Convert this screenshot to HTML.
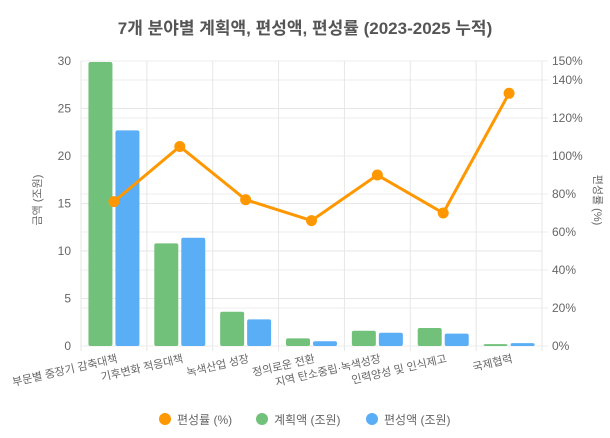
<!DOCTYPE html>
<html><head><meta charset="utf-8"><style>
body{margin:0;background:#fff;font-family:"Liberation Sans","Noto Sans CJK KR",sans-serif}
svg text{font-family:"Liberation Sans","Noto Sans CJK KR",sans-serif}
</style></head><body>
<svg id="c" width="610" height="433">
<text x="305" y="34" text-anchor="middle" font-size="17" font-weight="bold" fill="#555">7개 분야별 계획액, 편성액, 편성률 (2023-2025 누적)</text>
<g id="grid"></g><g id="bars"></g><g id="line"></g><g id="axes"></g>
<text transform="translate(41,200) rotate(-90)" text-anchor="middle" font-size="11" fill="#666">금액 (조원)</text>
<text transform="translate(594,200) rotate(90)" text-anchor="middle" font-size="11" fill="#666">편성률 (%)</text>
<g>
<g><circle cx="165" cy="419" r="6" fill="#ff9800"/><text x="177" y="424" font-size="12" fill="#666">편성률 (%)</text></g>
<g><circle cx="262" cy="419" r="6" fill="#72c17a"/><text x="274" y="424" font-size="12" fill="#666">계획액 (조원)</text></g>
<g><circle cx="372" cy="419" r="6" fill="#5aaef5"/><text x="384" y="424" font-size="12" fill="#666">편성액 (조원)</text></g>
</g>
</svg>
<script>
const categories=["부문별 중장기 감축대책","기후변화 적응대책","녹색산업 성장","정의로운 전환","지역 탄소중립·녹색성장","인력양성 및 인식제고","국제협력"];
const planValues=[29.9,10.8,3.6,0.8,1.6,1.9,0.2];
const budgetValues=[22.7,11.4,2.8,0.5,1.4,1.3,0.3];
const rateValues=[76,105,77,66,90,70,133];
const leftTicks=[0,5,10,15,20,25,30];
const rightTicks=[0,20,40,60,80,100,120,140,150];
const NS="http://www.w3.org/2000/svg";
const L=81,R=542,T=61,B=346;
const cw=(R-L)/categories.length;
const y=v=>B-(v/30)*(B-T);
const y2=v=>B-(v/150)*(B-T);
const cx=i=>L+cw*(i+0.5);
function mk(tag,attrs,parent,txt){const e=document.createElementNS(NS,tag);for(const k in attrs)e.setAttribute(k,attrs[k]);if(txt!==undefined)e.textContent=txt;document.getElementById(parent).appendChild(e);return e;}
leftTicks.forEach(t=>{
 const g=mk('line',{x1:L,x2:R,y1:y(t),y2:y(t),stroke:'#e6e6e6'},'grid');
 
 
 const tx=mk('text',{x:L-10,y:y(t)+4,'text-anchor':'end','font-size':12,fill:'#666'},'axes',t);
 
 
});
rightTicks.forEach(t=>{
 const g=mk('line',{x1:L,x2:R+6,y1:y2(t),y2:y2(t),stroke:'#ececec'},'grid');
 
 
 const tx=mk('text',{x:R+10,y:y2(t)+4,'font-size':12,fill:'#666'},'axes',t+'%');
 
 
});
for(let i=0;i<=categories.length;i++){
 const g=mk('line',{x1:L+cw*i,x2:L+cw*i,y1:T,y2:B+5,stroke:'#e6e6e6'},'grid');
 
 
}
categories.forEach((c,i)=>{
 const bw=24;
 const b1=mk('rect',{x:cx(i)-bw-1.5,y:y(planValues[i]),width:bw,height:B-y(planValues[i]),fill:'#72c17a',rx:2},'bars');
 
 
 const b2=mk('rect',{x:cx(i)+1.5,y:y(budgetValues[i]),width:bw,height:B-y(budgetValues[i]),fill:'#5aaef5',rx:2},'bars');
 
 
 const tx=mk('text',{transform:`translate(${cx(i)+4},${B+16}) rotate(-13)`,'text-anchor':'end','font-size':11,fill:'#666'},'axes',c);
 
 
});
const pts=rateValues.map((v,i)=>cx(i)+','+y2(v)).join(' ');
const pl=mk('polyline',{points:pts,fill:'none',stroke:'#ff9800','stroke-width':3},'line');


rateValues.forEach((v,i)=>{
 const p=mk('circle',{cx:cx(i),cy:y2(v),r:5.5,fill:'#ff9800'},'line');
 
 
});
</script>
</body></html>
